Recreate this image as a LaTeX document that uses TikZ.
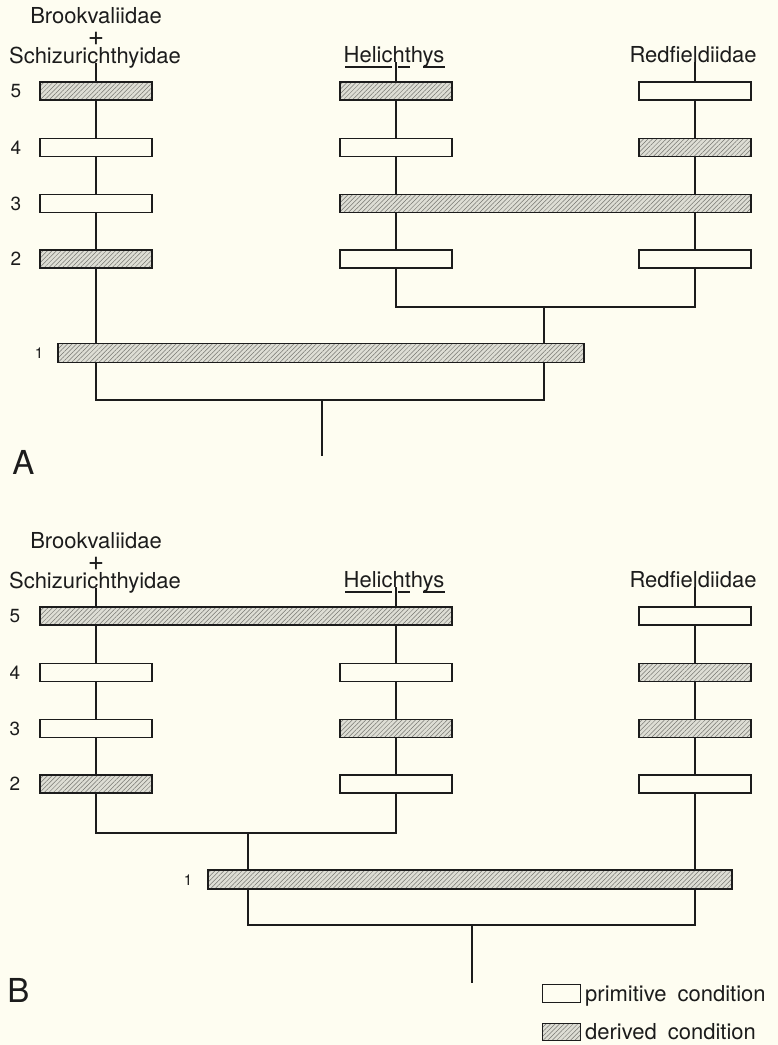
\documentclass[tikz,border=0pt]{standalone}
\usepackage{fontspec}
\setmainfont{TeX Gyre Heros}
\usetikzlibrary{patterns.meta}
\definecolor{paper}{RGB}{254,253,241}
\definecolor{hatchbg}{RGB}{222,222,213}
\definecolor{hatchln}{RGB}{118,118,112}
\definecolor{ink}{RGB}{28,28,28}
\pgfdeclarelayer{back}
\pgfsetlayers{back,main}
\begin{document}
\begin{tikzpicture}[x=1pt,y=-1pt,
  lab/.style={font=\fontsize{22}{26}\selectfont, text=ink, inner sep=0pt, anchor=base},
  plus/.style={font=\fontsize{28}{28}\selectfont, text=ink, inner sep=0pt, anchor=base},
  num/.style={font=\fontsize{19}{22}\selectfont, text=ink, inner sep=0pt},
  small/.style={font=\fontsize{15}{15}\selectfont, text=ink, inner sep=0pt},
  panel/.style={font=\fontsize{33}{33}\selectfont, text=ink, inner sep=0pt},
  box/.style={draw=ink, line width=1.2pt, inner sep=0pt, minimum height=18pt, minimum width=112pt},
  prim/.style={box, fill=paper},
  deriv/.style={box, preaction={fill=hatchbg}, pattern={Lines[angle=45,distance=3.2pt,line width=0.5pt]}, pattern color=hatchln},
  conn/.style={draw=ink, line width=1.3pt},
  uline/.style={draw=ink, line width=1.1pt}]

\begin{pgfonlayer}{back}
\path[fill=paper] (0,0) rectangle (778,1045);
\end{pgfonlayer}

% ================= Panel A =================
\node[lab] (tA) at (96,23) {Brookvaliidae};
\node[plus] (pA) at (96,45.5) {+};
\node[lab] (sA) at (95,63) {Schizurichthyidae};
\node[lab] (hA) at (394,62) {Helichthys};
\node[lab] (rA) at (693,62) {Redfieldiidae};
\draw[uline] (345,67) -- (392,67) (398,67) -- (410,67) (423,67) -- (445,67);

\node[num] (nA5) at (16,91) {5};
\node[num] (nA4) at (16,147.5) {4};
\node[num] (nA3) at (16,203.5) {3};
\node[num] (nA2) at (16,259) {2};
\node[small] (nA1) at (39,353) {1};

\node[deriv] (a5l) at (96,91) {};
\node[prim]  (a4l) at (96,147.5) {};
\node[prim]  (a3l) at (96,203.5) {};
\node[deriv] (a2l) at (96,259) {};

\node[deriv] (a5m) at (396,91) {};
\node[prim]  (a4m) at (396,147.5) {};
\node[prim]  (a2m) at (396,259) {};

\node[prim]  (a5r) at (695,91) {};
\node[deriv] (a4r) at (695,147.5) {};
\node[prim]  (a2r) at (695,259) {};

\node[deriv, minimum width=411pt] (a3w) at (545.5,203.5) {};
\node[deriv, minimum width=526pt, minimum height=19pt] (a1) at (321,353) {};

\coordinate (jA1) at (396,307);
\coordinate (jA2) at (695,307);
\coordinate (jA3) at (544,307);
\coordinate (kA1) at (96,400);
\coordinate (kA2) at (544,400);
\coordinate (kA3) at (322,400);
\coordinate (rootA) at (322,456);

\begin{pgfonlayer}{back}
\draw[conn] (sA.base -| a5l) -- (kA1) -- (kA2) -- (jA3);
\draw[conn] (hA.base -| a5m) -- (jA1) -- (jA2) -- (rA.base -| a5r);
\draw[conn] (kA3) -- (rootA);
\end{pgfonlayer}

\node[panel] (lA) at (23.5,462) {A};

% ================= Panel B =================
\node[lab] (tB) at (96,548) {Brookvaliidae};
\node[plus] (pB) at (96,570.5) {+};
\node[lab] (sB) at (95,588) {Schizurichthyidae};
\node[lab] (hB) at (394,587) {Helichthys};
\node[lab] (rB) at (693,587) {Redfieldiidae};
\draw[uline] (345,592) -- (392,592) (398,592) -- (410,592) (423,592) -- (445,592);

\node[num] (nB5) at (15,616) {5};
\node[num] (nB4) at (15,672.5) {4};
\node[num] (nB3) at (15,728.5) {3};
\node[num] (nB2) at (15,784) {2};
\node[small] (nB1) at (188,880) {1};

\node[deriv, minimum width=412pt] (b5w) at (246,616) {};
\node[prim]  (b5r) at (695,616) {};

\node[prim]  (b4l) at (96,672.5) {};
\node[prim]  (b4m) at (396,672.5) {};
\node[deriv] (b4r) at (695,672.5) {};

\node[prim]  (b3l) at (96,728.5) {};
\node[deriv] (b3m) at (396,728.5) {};
\node[deriv] (b3r) at (695,728.5) {};

\node[deriv] (b2l) at (96,784) {};
\node[prim]  (b2m) at (396,784) {};
\node[prim]  (b2r) at (695,784) {};

\node[deriv, minimum width=524pt, minimum height=19pt] (b1) at (470,879.5) {};

\coordinate (kB1) at (96,833);
\coordinate (kB2) at (396,833);
\coordinate (kB3) at (248,833);
\coordinate (mB1) at (248,925);
\coordinate (mB2) at (695,925);
\coordinate (mB3) at (472,925);
\coordinate (rootB) at (472,983);

\begin{pgfonlayer}{back}
\draw[conn] (sB.base -| b4l) -- (kB1) -- (kB2) -- (hB.base -| b4m);
\draw[conn] (kB3) -- (mB1) -- (mB2) -- (rB.base -| b5r);
\draw[conn] (mB3) -- (rootB);
\end{pgfonlayer}

\node[panel] (lB) at (18.5,990) {B};

% ================= Legend =================
\node[prim, minimum width=38pt, minimum height=18pt, line width=1pt] (legP) at (561,993.5) {};
\node[lab, anchor=base west] (legPt) at (585,1001) {primitive\hspace{0.5em}condition};
\node[deriv, minimum width=38pt, minimum height=17pt, line width=1pt] (legD) at (561,1031.5) {};
\node[lab, anchor=base west] (legDt) at (585,1039) {derived\hspace{0.5em}condition};

\end{tikzpicture}
\end{document}
